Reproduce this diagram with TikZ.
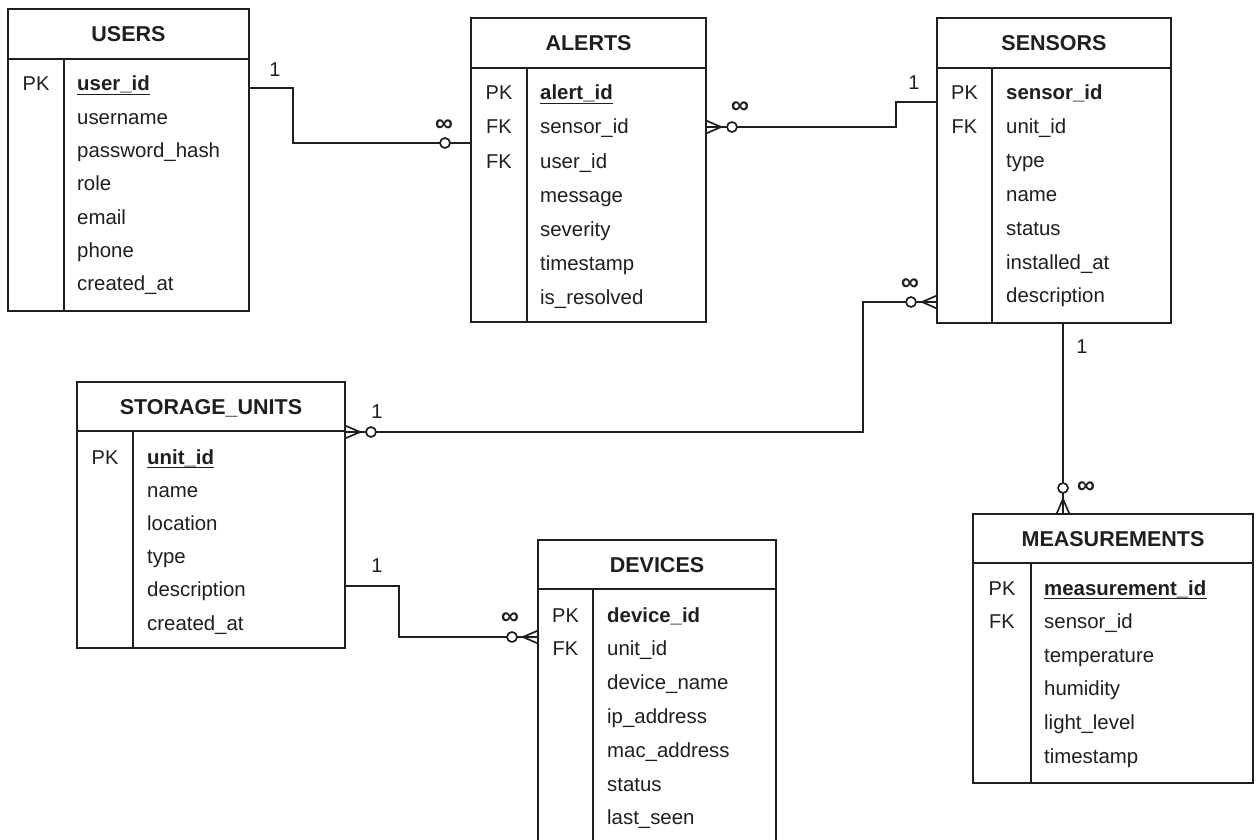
\documentclass[tikz,border=0pt]{standalone}
\usepackage{fontspec}
\setmainfont{Liberation Sans}
\begin{document}
\begin{tikzpicture}[x=1pt,y=-1pt,
  ink/.style={draw=black!88, line width=1.8pt},
  tbox/.style={ink, rectangle, inner sep=0pt, outer sep=0pt, anchor=north west, fill=white},
  tbltitle/.style={font=\bfseries\fontsize{21.5}{24}\selectfont, text=black!88, inner sep=0pt, anchor=base},
  keycol/.style={font=\fontsize{20}{24}\selectfont, text=black!88, inner sep=0pt, anchor=base},
  fieldtxt/.style={font=\fontsize{20.4}{24}\selectfont, text=black!88, inner sep=0pt, anchor=base west},
  pkfield/.style={fieldtxt, font=\bfseries\fontsize{20.4}{24}\selectfont},
  uline/.style={draw=black!88, line width=1.5pt},
  relline/.style={draw=black!88, line width=1.7pt},
  cardlbl/.style={font=\fontsize{20}{24}\selectfont, text=black!88, inner sep=0pt},
  manylbl/.style={font=\bfseries\fontsize{25}{28}\selectfont, text=black!88, inner sep=0pt},
  manyend/.pic={
    \draw[relline] (0,-6.5) -- (-15,0) -- (0,6.5) (0,0) -- (-15,0);
    \draw[relline, fill=white] (-26,0) circle (5pt);
  },
  optend/.pic={
    \draw[relline, fill=white] (-26,0) circle (5pt);
  },
]
\useasboundingbox (0,0) rectangle (1256,840);
\fill[white] (0,0) rectangle (1256,840);
\clip (0,0) rectangle (1256,840);

% ---------- USERS ----------
\node[tbox, minimum width=241pt, minimum height=302pt] (users) at (8,9) {};
\draw[ink] (8,59) -- (249,59) (64,59) -- (64,311);
\node[tbltitle] (users-t) at (128.5,41.5) {USERS};
\node[keycol] (users-k1) at (36,91) {PK};
\node[pkfield] (users-f1) at (77,91) {user\_id};
\draw[uline] ([yshift=-3.5pt]users-f1.base west) -- ([yshift=-3.5pt]users-f1.base east);
\foreach \t [count=\i from 2] in {username,password\_hash,role,email,phone,created\_at}
  \node[fieldtxt] (users-f\i) at (77,{91+(\i-1)*33.3}) {\t};

% ---------- ALERTS ----------
\node[tbox, minimum width=235pt, minimum height=304pt] (alerts) at (471,18) {};
\draw[ink] (471,68) -- (706,68) (527,68) -- (527,322);
\node[tbltitle] (alerts-t) at (588.5,50.5) {ALERTS};
\node[keycol] (alerts-k1) at (499,100) {PK};
\node[keycol] (alerts-k2) at (499,134) {FK};
\node[keycol] (alerts-k3) at (499,168) {FK};
\node[pkfield] (alerts-f1) at (540,100) {alert\_id};
\draw[uline] ([yshift=-3.5pt]alerts-f1.base west) -- ([yshift=-3.5pt]alerts-f1.base east);
\foreach \t [count=\i from 2] in {sensor\_id,user\_id,message,severity,timestamp,is\_resolved}
  \node[fieldtxt] (alerts-f\i) at (540,{100+(\i-1)*34}) {\t};

% ---------- SENSORS ----------
\node[tbox, minimum width=234pt, minimum height=305pt] (sensors) at (937,18) {};
\draw[ink] (937,68) -- (1171,68) (992,68) -- (992,323);
\node[tbltitle] (sensors-t) at (1054,50.5) {SENSORS};
\node[keycol] (sensors-k1) at (964.5,100) {PK};
\node[keycol] (sensors-k2) at (964.5,133.8) {FK};
\node[pkfield] (sensors-f1) at (1006,100) {sensor\_id};
\foreach \t [count=\i from 2] in {unit\_id,type,name,status,installed\_at,description}
  \node[fieldtxt] (sensors-f\i) at (1006,{100+(\i-1)*33.8}) {\t};

% ---------- STORAGE_UNITS ----------
\node[tbox, minimum width=268pt, minimum height=266pt] (storage) at (77,382) {};
\draw[ink] (77,431) -- (345,431) (133,431) -- (133,648);
\node[tbltitle] (storage-t) at (211,414) {STORAGE\_UNITS};
\node[keycol] (storage-k1) at (105,464) {PK};
\node[pkfield] (storage-f1) at (147,464) {unit\_id};
\draw[uline] ([yshift=-3.5pt]storage-f1.base west) -- ([yshift=-3.5pt]storage-f1.base east);
\foreach \t [count=\i from 2] in {name,location,type,description,created\_at}
  \node[fieldtxt] (storage-f\i) at (147,{464+(\i-1)*33.2}) {\t};

% ---------- DEVICES ----------
\node[tbox, minimum width=238pt, minimum height=320pt] (devices) at (538,540) {};
\draw[ink] (538,589) -- (776,589) (593,589) -- (593,860);
\node[tbltitle] (devices-t) at (657,572) {DEVICES};
\node[keycol] (devices-k1) at (565.5,622) {PK};
\node[keycol] (devices-k2) at (565.5,655.8) {FK};
\node[pkfield] (devices-f1) at (607,622) {device\_id};
\foreach \t [count=\i from 2] in {unit\_id,device\_name,ip\_address,mac\_address,status,last\_seen}
  \node[fieldtxt] (devices-f\i) at (607,{622+(\i-1)*33.8}) {\t};

% ---------- MEASUREMENTS ----------
\node[tbox, minimum width=280pt, minimum height=269pt] (measurements) at (973,514) {};
\draw[ink] (973,563) -- (1253,563) (1031,563) -- (1031,783);
\node[tbltitle] (measurements-t) at (1113,546) {MEASUREMENTS};
\node[keycol] (measurements-k1) at (1002,595) {PK};
\node[keycol] (measurements-k2) at (1002,628.6) {FK};
\node[pkfield] (measurements-f1) at (1044,595) {measurement\_id};
\draw[uline] ([yshift=-3.5pt]measurements-f1.base west) -- ([yshift=-3.5pt]measurements-f1.base east);
\foreach \t [count=\i from 2] in {sensor\_id,temperature,humidity,light\_level,timestamp}
  \node[fieldtxt] (measurements-f\i) at (1044,{595+(\i-1)*33.6}) {\t};

% ---------- relationship ports ----------
\coordinate (usersE) at ([yshift=-79pt]users.north east);
\coordinate (alertsW) at ([yshift=-125pt]alerts.north west);
\coordinate (alertsE) at ([yshift=-109pt]alerts.north east);
\coordinate (sensW1) at ([yshift=-84pt]sensors.north west);
\coordinate (sensW2) at ([yshift=-284pt]sensors.north west);
\coordinate (sensS) at ([xshift=126pt]sensors.south west);
\coordinate (storE1) at ([yshift=-50pt]storage.north east);
\coordinate (storE2) at ([yshift=-204pt]storage.north east);
\coordinate (devW) at ([yshift=-97pt]devices.north west);
\coordinate (measN) at (sensS |- measurements.north);

% ---------- relationships ----------
\draw[relline] (usersE) -- ++(44,0) |- (alertsW);
\draw[relline] (sensW1) -- ++(-41,0) |- (alertsE);
\draw[relline] (storE1) -- ++(518,0) |- (sensW2);
\draw[relline] (storE2) -- ++(54,0) |- (devW);
\draw[relline] (sensS) -- (measN);

\pic at (alertsW) {optend};
\pic[rotate=180] at (alertsE) {manyend};
\pic at (sensW2) {manyend};
\pic[rotate=180] at (storE1) {manyend};
\pic at (devW) {manyend};
\pic[rotate=-90] at (measN) {manyend};

% ---------- cardinalities ----------
\node[cardlbl] (card-ua1) at (275,70) {1};
\node[manylbl] (card-ua2) at (444,126) {∞};
\node[cardlbl] (card-sa1) at (914,83) {1};
\node[manylbl] (card-sa2) at (740,108) {∞};
\node[cardlbl] (card-us1) at (377,412) {1};
\node[manylbl] (card-us2) at (910,285) {∞};
\node[cardlbl] (card-ud1) at (377,566) {1};
\node[manylbl] (card-ud2) at (510,619) {∞};
\node[cardlbl] (card-sm1) at (1082,347) {1};
\node[manylbl] (card-sm2) at (1086,488) {∞};
\end{tikzpicture}
\end{document}
